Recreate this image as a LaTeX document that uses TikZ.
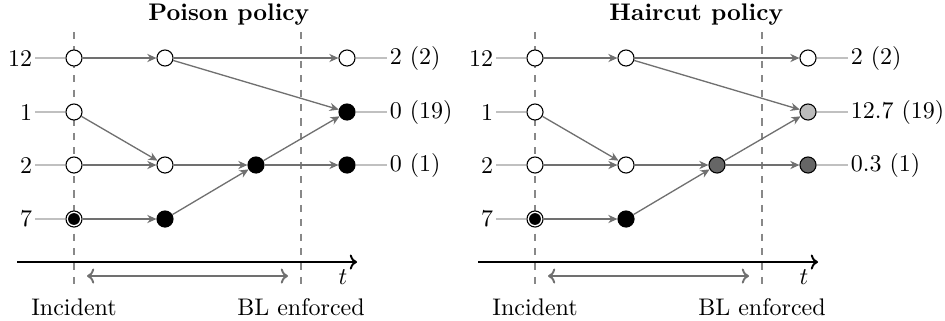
\documentclass[tikz,border=0pt]{standalone}
\usetikzlibrary{arrows.meta}
\definecolor{arrowgray}{HTML}{707070}
\definecolor{labelgray}{HTML}{C0C0C0}
\definecolor{dashgray}{HTML}{888888}
\definecolor{darkfill}{HTML}{666666}
\definecolor{lightfill}{HTML}{BBBBBB}
\tikzset{
  st/.style={circle, draw=black, line width=0.45pt, minimum size=6.7pt, inner sep=0pt},
  whitenode/.style={st, fill=white},
  blacknode/.style={st, fill=black},
  innerdot/.style={circle, fill=black, draw=none, minimum size=4.9pt, inner sep=0pt},
  flow/.style={draw=arrowgray, line width=0.55pt, -{Stealth[length=3.8pt,width=3.4pt,inset=1.2pt]}},
  lbl/.style={draw=labelgray, line width=0.5pt},
  vdash/.style={draw=dashgray, line width=0.45pt, dash pattern=on 3pt off 3pt},
  lefttxt/.style={anchor=east, inner sep=1pt},
  righttxt/.style={anchor=west, inner sep=1pt},
}
\newcommand\mypanel[7]{%
\begin{scope}[shift={(#2,0)}]
  % dashed lines and bottom labels
  \coordinate (#1d1) at (74,32);
  \coordinate (#1d2) at (301,32);
  \node[anchor=north] (#1inc) at (74,290) {Incident};
  \node[anchor=north] (#1bl) at (301,290) {BL enforced};
  \draw[vdash] (#1d1) -- (#1inc.north);
  \draw[vdash] (#1d2) -- (#1bl.north);
  % title
  \node[anchor=west, inner sep=0pt] (#1title) at (148,15) {\textbf{#3}};
  % axis
  \coordinate (#1ax0) at (17,262);
  \coordinate (#1ax1) at (357,262);
  \draw[line width=0.8pt, -{To[length=3pt]}] (#1ax0) -- (#1ax1);
  \node (#1t) at (343,277) {$t$};
  \coordinate (#1da) at (87,276);
  \coordinate (#1db) at (288,276);
  \draw[draw=arrowgray, line width=0.8pt, {To[length=3pt]}-{To[length=3pt]}] (#1da) -- (#1db);
  % nodes
  \node[whitenode] (#1a0) at (74,58) {};
  \node[whitenode] (#1b0) at (74,112) {};
  \node[whitenode] (#1c0) at (74,165) {};
  \node[whitenode] (#1e0) at (74,219) {};
  \node[innerdot] (#1e0in) at (74,219) {};
  \node[whitenode] (#1a1) at (165,58) {};
  \node[whitenode] (#1c1) at (165,165) {};
  \node[blacknode] (#1e1) at (165,219) {};
  \node[st, fill=#4] (#1c2) at (256,165) {};
  \node[whitenode] (#1a3) at (347,58) {};
  \node[st, fill=#5] (#1b3) at (347,112) {};
  \node[st, fill=#4] (#1c3) at (347,165) {};
  % left labels
  \node[lefttxt] (#1la) at (35,58) {12};
  \node[lefttxt] (#1lb) at (35,112) {1};
  \node[lefttxt] (#1lc) at (35,165) {2};
  \node[lefttxt] (#1le) at (35,219) {7};
  \draw[lbl] (#1la) -- (#1a0);
  \draw[lbl] (#1lb) -- (#1b0);
  \draw[lbl] (#1lc) -- (#1c0);
  \draw[lbl] (#1le) -- (#1e0);
  % right labels
  \node[righttxt] (#1ra) at (387,58) {2 (2)};
  \node[righttxt] (#1rb) at (387,112) {#6};
  \node[righttxt] (#1rc) at (387,165) {#7};
  \draw[lbl] (#1a3) -- (#1ra);
  \draw[lbl] (#1b3) -- (#1rb);
  \draw[lbl] (#1c3) -- (#1rc);
  % flows
  \draw[flow] (#1a0) -- (#1a1);
  \draw[flow] (#1a1) -- (#1a3);
  \draw[flow] (#1a1) -- (#1b3);
  \draw[flow] (#1b0) -- (#1c1);
  \draw[flow] (#1c0) -- (#1c1);
  \draw[flow] (#1c1) -- (#1c2);
  \draw[flow] (#1e0) -- (#1e1);
  \draw[flow] (#1e1) -- (#1c2);
  \draw[flow] (#1c2) -- (#1b3);
  \draw[flow] (#1c2) -- (#1c3);
\end{scope}}
\begin{document}
\begin{tikzpicture}[x=0.41667pt, y=-0.41667pt]
  \useasboundingbox (0,0) rectangle (945,320);
  \mypanel{P}{0}{Poison policy}{black}{black}{0 (19)}{0 (1)}
  \mypanel{H}{461}{Haircut policy}{darkfill}{lightfill}{12.7 (19)}{0.3 (1)}
\end{tikzpicture}
\end{document}
